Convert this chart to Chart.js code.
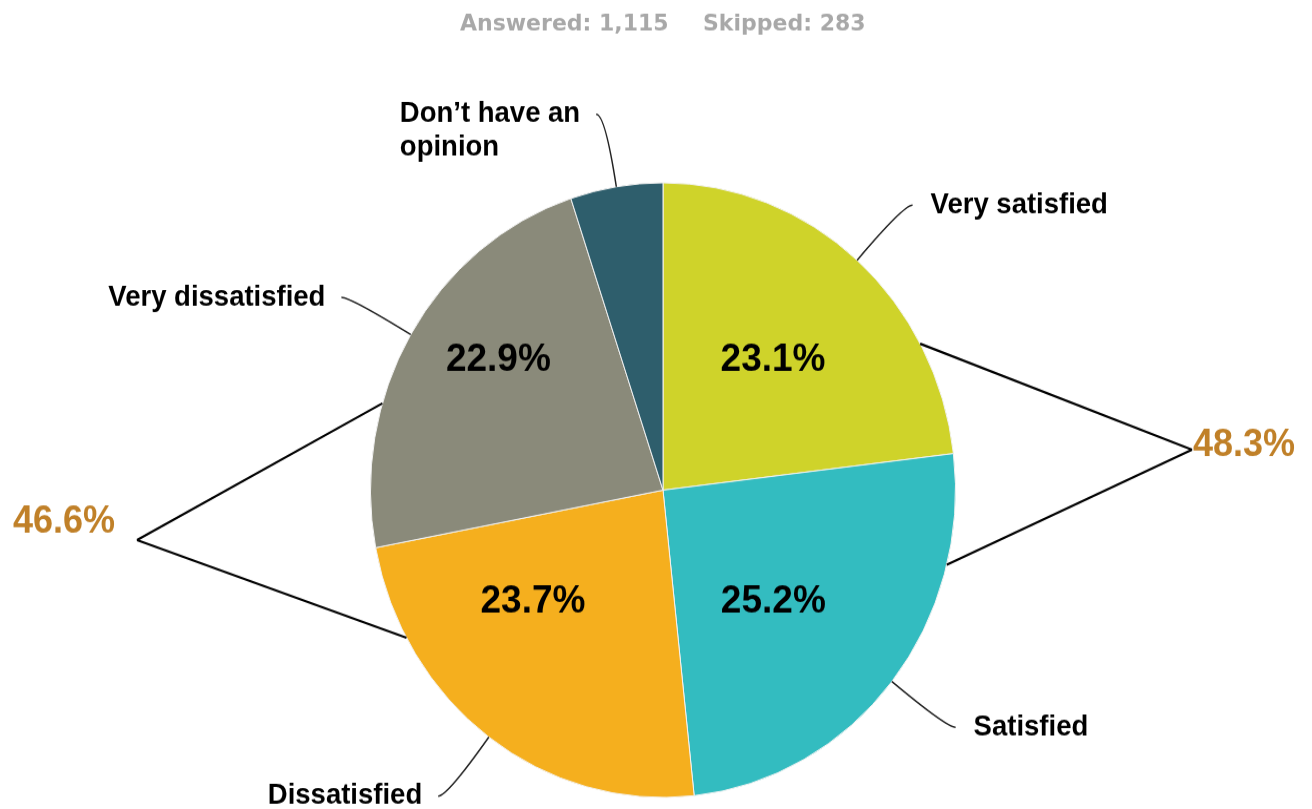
<!DOCTYPE html>
<html>
<head>
<meta charset="utf-8">
<script src="https://cdn.jsdelivr.net/npm/chart.js@4.4.0/dist/chart.umd.min.js"></script>
<style>
  html, body { margin: 0; padding: 0; background: #fff; }
  /* the chart is drawn a little flatter and stretched back to full height */
  #chart { display: block; width: 1312px !important; height: 809px !important; }
</style>
</head>
<body>
<canvas id="chart" width="1312" height="770"></canvas>
<script>
const categories = ['Very satisfied', 'Satisfied', 'Dissatisfied', 'Very dissatisfied', ['Don’t have an', 'opinion']]
const percents = [23.1, 25.2, 23.7, 22.9, 5.1]
const answered = 1115
const skipped = 283
const satisfiedGroup = [0, 1]
const dissatisfiedGroup = [2, 3]

const sliceColors = ['#cfd32a', '#33bcc0', '#f5af1e', '#8a8a7a', '#2e5e6c']

// where the % text sits inside each slice: [fraction along the arc, fraction of radius]
const insideSpots = [[0.5, 0.567], [0.56, 0.524], [0.665, 0.575], [0.58, 0.705], null]

const brackets = [
    { slices: satisfiedGroup, at: [0.74, 0.23], vertex: [1192, 428], text: [1193, 424], align: 'left' },
    { slices: dissatisfiedGroup, at: [0.79, 0.33], vertex: [137, 514], text: [115, 497], align: 'right' },
]

const pointOnArc = (p, frac, rFrac) => {
    const a = p.startAngle + (p.endAngle - p.startAngle) * frac
    const r = p.outerRadius * rFrac
    return [p.x + r * Math.cos(a), p.y + r * Math.sin(a)]
}

const pieLabels = {
    id: 'pieLabels',
    afterDraw(chart) {
        const ctx = chart.ctx
        const values = chart.data.datasets[0].data
        const arcs = chart.getDatasetMeta(0).data.map(a =>
            a.getProps(['x', 'y', 'startAngle', 'endAngle', 'outerRadius'], true))
        ctx.save()
        ctx.textBaseline = 'middle'

        // header counts
        ctx.font = 'bold 22px "DejaVu Sans"'
        ctx.fillStyle = '#a8a8a8'
        ctx.textAlign = 'left'
        ctx.fillText('Answered: ' + answered.toLocaleString('en-US'), 460, 23)
        ctx.fillText('Skipped: ' + skipped.toLocaleString('en-US'), 703, 23)

        // percentages inside slices
        ctx.font = 'bold 37px "Liberation Sans"'
        ctx.fillStyle = '#000'
        ctx.textAlign = 'center'
        arcs.forEach((p, i) => {
            if (!insideSpots[i]) return
            const [x, y] = pointOnArc(p, insideSpots[i][0], insideSpots[i][1])
            ctx.fillText(values[i].toFixed(1) + '%', x, y)
        })

        // category names with curved leaders
        ctx.font = 'bold 27.5px "Liberation Sans"'
        ctx.strokeStyle = '#222'
        ctx.lineWidth = 1.5
        arcs.forEach((p, i) => {
            const m = (p.startAngle + p.endAngle) / 2
            const dx = Math.cos(m), dy = Math.sin(m)
            const x0 = p.x + p.outerRadius * dx, y0 = p.y + p.outerRadius * dy
            const x1 = x0 + 70 * dx, y1 = y0 + 70 * dy
            const side = dx >= 0 ? 1 : -1
            const x2 = x1 + 9 * side
            ctx.beginPath()
            ctx.moveTo(x0, y0)
            ctx.quadraticCurveTo(x1, y1, x2, y1)
            ctx.stroke()

            const lines = [].concat(chart.data.labels[i])
            const w = Math.max(...lines.map(l => ctx.measureText(l).width))
            const tx = side > 0 ? x2 + 18 : x2 - 16 - w
            ctx.textAlign = 'left'
            lines.forEach((l, k) => ctx.fillText(l, tx, y1 + k * 31.4))
        })

        // group totals
        ctx.strokeStyle = '#000'
        ctx.lineWidth = 2.2
        brackets.forEach(b => {
            ctx.beginPath()
            b.slices.forEach((s, k) => {
                const [x, y] = pointOnArc(arcs[s], b.at[k], 1)
                ctx.moveTo(x, y)
                ctx.lineTo(b.vertex[0], b.vertex[1])
            })
            ctx.stroke()
            const total = b.slices.reduce((sum, s) => sum + values[s], 0)
            ctx.font = 'bold 36px "Liberation Sans"'
            ctx.fillStyle = '#c08028'
            ctx.textAlign = b.align
            ctx.fillText(total.toFixed(1) + '%', b.text[0], b.text[1])
        })
        ctx.restore()
    }
}

new Chart(document.getElementById('chart'), {
    type: 'pie',
    data: {
        labels: categories,
        datasets: [{
            data: percents,
            backgroundColor: sliceColors,
            borderColor: '#f2f2f2',
            borderWidth: 1,
        }]
    },
    options: {
        responsive: false,
        animation: false,
        devicePixelRatio: 1,
        layout: { padding: { left: 370, right: 356, top: 173.5, bottom: 10.5 } },
        plugins: {
            legend: { display: false },
            tooltip: { enabled: false },
        }
    },
    plugins: [pieLabels]
})
</script>
</body>
</html>
